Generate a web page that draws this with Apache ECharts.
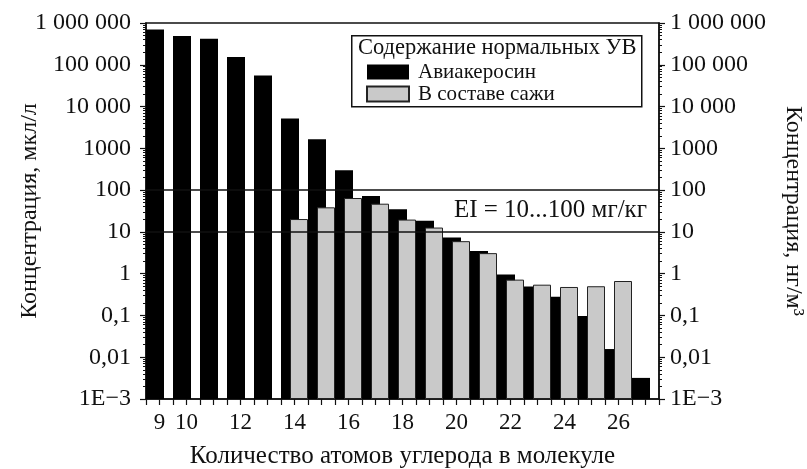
<!DOCTYPE html>
<html>
<head>
<meta charset="utf-8">
<script src="https://cdn.jsdelivr.net/npm/echarts@6/dist/echarts.min.js"></script>
<style>
  html, body { margin: 0; padding: 0; background: #fff; }
  #chart { width: 807px; height: 469px; }
</style>
</head>
<body>
<div id="chart"></div>
<script>
// Carbon numbers of the n-alkanes (x categories)
const carbonNumbers = ['9', '10', '11', '12', '13', '14', '15', '16', '17', '18',
                       '19', '20', '21', '22', '23', '24', '25', '26', '27'];
// Which carbon numbers get a tick label
const xTickLabels = ['9', '10', '12', '14', '16', '18', '20', '22', '24', '26'];

// Jet fuel (Авиакеросин), мкл/л
const keroseneValues = [7.0e5, 4.9e5, 4.2e5, 1.53e5, 5.5e4, 5.2e3, 1640, 298, 72, 35,
                        18.5, 7.3, 3.5, 0.96, 0.49, 0.28, 0.097, 0.0157, 0.0032];
// Bound in soot (В составе сажи), нг/м3
const sootValues = [null, null, null, null, null, 20.3, 38.7, 64.7, 47.3, 19.7,
                    12.7, 6.0, 3.1, 0.72, 0.545, 0.48, 0.50, 0.667, null];

// Decade tick values and their labels
const yTickValues = [1e-3, 1e-2, 0.1, 1, 10, 100, 1000, 1e4, 1e5, 1e6];
const yTickLabels = ['1E\u22123', '0,01', '0,1', '1', '10', '100', '1000', '10 000', '100 000', '1 000 000'];

// Emission-index band
const eiBand = [10, 100];
const eiText = 'EI = 10...100 мг/кг';

const seriesNames = ['Авиакеросин', 'В составе сажи'];
const legendTitle = 'Содержание нормальных УВ';

// minor ticks 2..9 inside every decade
const minorTickValues = [];
for (let d = -3; d < 6; d++) {
  for (let k = 2; k <= 9; k++) minorTickValues.push(k * Math.pow(10, d));
}

const FONT = "'Liberation Serif', 'Times New Roman', serif";
const INK = '#111';

const labelFor = v => {
  const i = yTickValues.findIndex(t => Math.abs(Math.log10(t) - Math.log10(v)) < 1e-6);
  return i >= 0 ? yTickLabels[i] : '';
};

function logAxis(pos, withLabels, name) {
  return {
    type: 'log',
    logBase: 10,
    position: pos,
    min: yTickValues[0],
    max: yTickValues[yTickValues.length - 1],
    startValue: yTickValues[0],
    name: name,
    nameLocation: 'middle',
    nameGap: pos === 'left' ? 104 : 122,
    nameRotate: pos === 'left' ? 90 : -90,
    nameMoveOverlap: false,
    nameTextStyle: { fontFamily: FONT, fontSize: 24, color: INK },
    axisLine: { show: withLabels, lineStyle: { color: INK, width: 1.5 } },
    axisTick: withLabels
      ? { show: true, inside: false, length: 6, customValues: yTickValues, lineStyle: { color: INK, width: 1.2 } }
      : { show: true, inside: false, length: 3, customValues: minorTickValues, lineStyle: { color: INK, width: 1 } },
    axisLabel: withLabels
      ? { show: true, customValues: yTickValues, formatter: labelFor, fontFamily: FONT, fontSize: 24, color: INK,
          margin: pos === 'left' ? 15 : 11 }
      : { show: false },
    splitLine: { show: false },
    minorTick: { show: false }
  };
}

const chart = echarts.init(document.getElementById('chart'), null, { renderer: 'canvas' });

chart.setOption({
  animation: false,
  backgroundColor: '#fff',
  grid: {
    left: 146, right: 148, top: 23, bottom: 70,
    outerBoundsMode: 'none',
    containLabel: false,
    show: true, borderColor: INK, borderWidth: 1.5, backgroundColor: 'transparent'
  },
  xAxis: [
    {
      type: 'category',
      data: carbonNumbers,
      boundaryGap: true,
      name: 'Количество атомов углерода в молекуле',
      nameLocation: 'middle',
      nameGap: 45,
      nameMoveOverlap: false,
      nameTextStyle: { fontFamily: FONT, fontSize: 25, color: INK },
      axisLine: { lineStyle: { color: INK, width: 1.5 } },
      axisTick: { show: true, interval: 0, alignWithLabel: false, length: 6, lineStyle: { color: INK, width: 1.2 } },
      axisLabel: {
        interval: (i, v) => xTickLabels.includes(v),
        fontFamily: FONT, fontSize: 23, color: INK, margin: 12
      },
      splitLine: { show: false }
    },
    {
      type: 'category',
      data: carbonNumbers,
      boundaryGap: true,
      position: 'bottom',
      axisLine: { show: false },
      axisTick: { show: true, interval: 0, alignWithLabel: true, length: 6, lineStyle: { color: INK, width: 1.2 } },
      axisLabel: { show: false },
      splitLine: { show: false }
    }
  ],
  yAxis: [
    logAxis('left', true, 'Концентрация, мкл/л'),
    logAxis('right', true, 'Концентрация, нг/м³'),
    logAxis('left', false, ''),
    logAxis('right', false, '')
  ],
  legend: {
    data: seriesNames,
    orient: 'vertical',
    left: 361,
    top: 56,
    itemWidth: 42,
    itemHeight: 15,
    itemGap: 0,
    icon: 'rect',
    textStyle: { fontFamily: FONT, fontSize: 21, color: INK, lineHeight: 22, padding: [0, 0, 0, 4] }
  },
  graphic: [
    {
      type: 'rect',
      left: 351, top: 35,
      shape: { width: 290, height: 71 },
      style: { fill: '#fff', stroke: INK, lineWidth: 1.5 },
      z: 0, zlevel: 0
    },
    {
      type: 'text',
      left: 358, top: 37,
      style: { text: legendTitle, font: '22.5px ' + FONT, fill: INK },
      z: 1
    }
  ],
  series: [
    {
      name: seriesNames[0],
      type: 'bar',
      data: keroseneValues,
      xAxisIndex: 0, yAxisIndex: 0,
      barWidth: 18,
      barGap: '-50%',
      itemStyle: { color: '#000', borderColor: '#000', borderWidth: 0 }
    },
    {
      name: seriesNames[1],
      type: 'bar',
      data: sootValues,
      xAxisIndex: 0, yAxisIndex: 0,
      barWidth: 18,
      barGap: '-50%',
      itemStyle: { color: '#c9c9c9', borderColor: '#222', borderWidth: 1 },
      markLine: {
        silent: true,
        symbol: 'none',
        lineStyle: { color: INK, type: 'solid', width: 1.5 },
        data: [
          { yAxis: eiBand[1], label: { show: true, position: 'insideEndBottom', formatter: eiText,
              fontFamily: FONT, fontSize: 25, color: INK, distance: [12, 8] } },
          { yAxis: eiBand[0], label: { show: false } }
        ]
      }
    }
  ]
});
</script>
</body>
</html>
